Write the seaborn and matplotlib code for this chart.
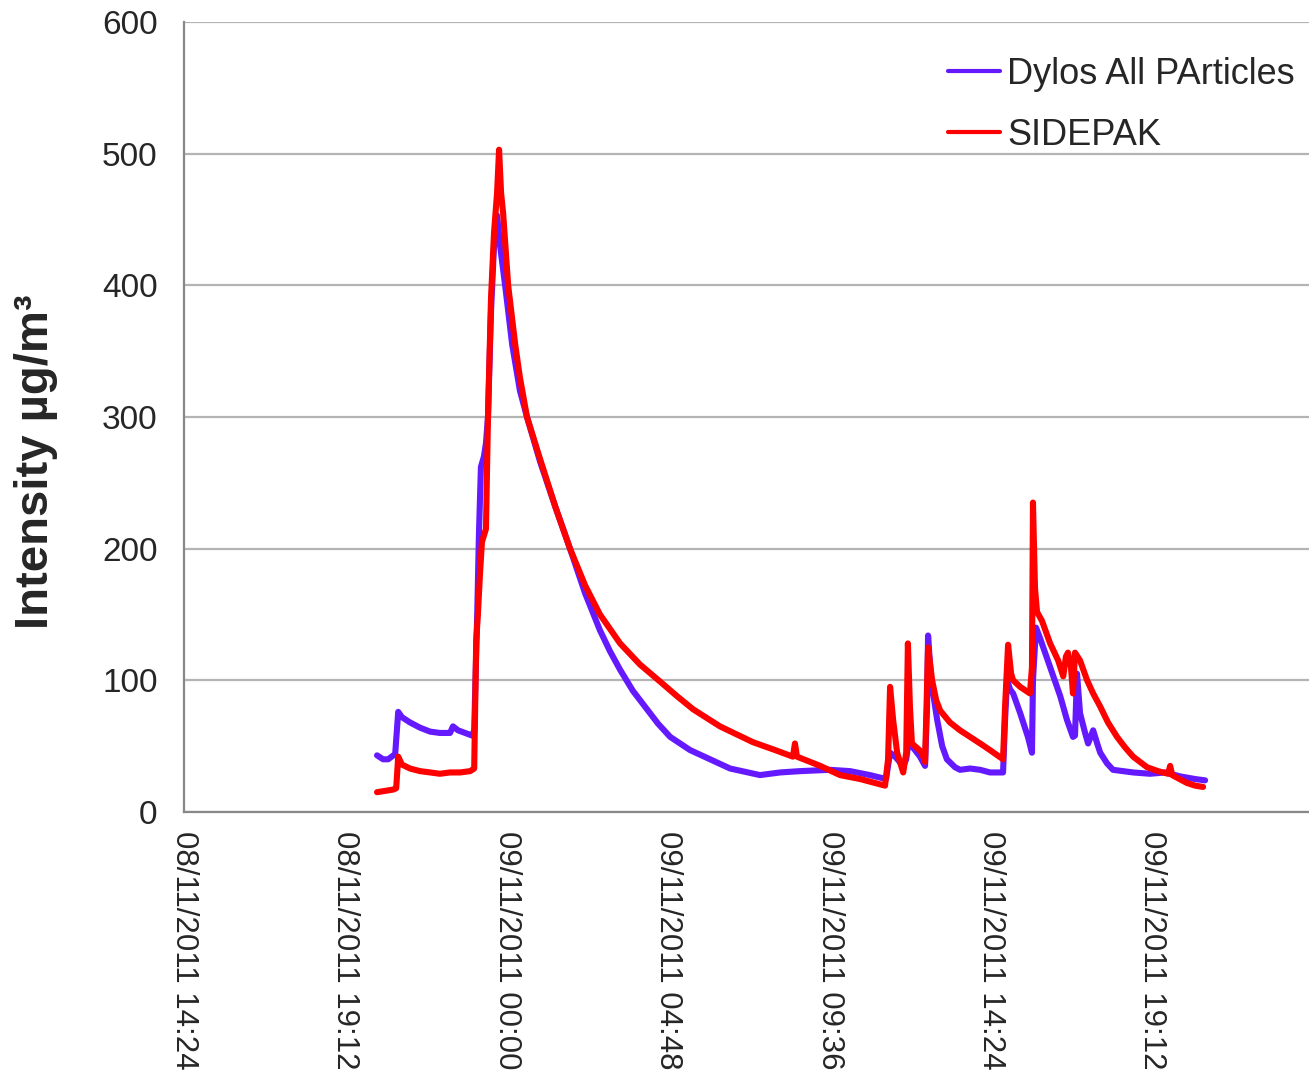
import pandas as pd
import numpy as np
import matplotlib.pyplot as plt
import seaborn as sns

# Time axis origin (first tick of the chart)
T0 = pd.Timestamp('2011-11-08 14:24')

# Dylos readings: hours after 08/11/2011 14:24 and intensity (ug/m3)
dylos_hours = [5.74, 5.92, 6.07, 6.28, 6.37, 6.48, 6.72, 7.02, 7.32, 7.61, 7.91, 8.00, 8.15,
               8.36, 8.57, 8.63, 8.72, 8.77, 8.83, 8.92, 8.98, 9.04, 9.13, 9.22, 9.31, 9.40,
               9.55, 9.76, 9.99, 10.20, 10.59, 11.04, 11.48, 11.93, 12.37, 12.67, 12.97,
               13.35, 13.77, 14.10, 14.46, 15.05, 15.56, 16.24, 17.13, 17.73, 18.32, 19.21,
               19.81, 20.40, 20.88, 21.00,
               21.15, 21.39, 21.48, 21.56, 21.65, 21.89, 22.04, 22.10, 22.13, 22.22, 22.40,
               22.55, 22.69, 22.93, 23.08, 23.38, 23.68, 23.97, 24.36, 24.42, 24.48, 24.57,
               24.66, 24.87, 25.10, 25.22, 25.25, 25.34, 25.46, 25.76, 26.06, 26.26, 26.44,
               26.50, 26.56, 26.65, 26.80, 26.89, 27.04, 27.16, 27.25, 27.45, 27.63, 28.23,
               28.73, 29.18, 29.63, 30.07, 30.37]
dylos_vals = [43, 40, 40, 44, 76, 72, 68, 64, 61, 60, 60, 65, 62,
              60, 58, 62, 150, 210, 262, 270, 280, 300, 380, 430, 453, 430,
              400, 355, 320, 300, 266, 232, 200, 166, 138, 122, 108,
              92, 78, 67, 57, 47, 41, 33, 28, 30, 31, 32,
              31, 28, 25, 45,
              42, 35, 40, 55, 50, 42, 35, 80, 134, 100, 70,
              50, 40, 34, 32, 33, 32, 30, 30, 70, 100, 93,
              90, 75, 57, 45, 100, 140, 132, 110, 88, 70, 57,
              58, 105, 75, 60, 52, 62, 52, 45, 37, 32, 30,
              29, 30, 27, 25, 24]

# SIDEPAK readings
sidepak_hours = [5.74, 5.98, 6.22, 6.31, 6.37, 6.48, 6.72, 7.02, 7.32, 7.61, 7.91, 8.21, 8.51,
                 8.63, 8.69, 8.74, 8.80, 8.86, 8.92, 8.98, 9.04, 9.13, 9.22, 9.31, 9.37, 9.43,
                 9.49, 9.64, 9.85, 9.99, 10.20, 10.59, 11.04, 11.48, 11.93, 12.37, 12.97,
                 13.56, 14.16, 14.66, 15.14, 15.94, 16.92, 17.58, 18.11, 18.17, 18.23, 18.92,
                 19.51, 20.11, 20.55,
                 20.85, 20.94, 21.00, 21.09, 21.21, 21.39, 21.48, 21.53, 21.59, 21.65, 21.83,
                 21.95, 22.04, 22.13, 22.25, 22.37, 22.49, 22.78, 23.08, 23.38, 23.68, 23.97,
                 24.36, 24.42, 24.51, 24.60, 24.66, 24.87, 25.16, 25.22, 25.25, 25.31, 25.37,
                 25.52, 25.76, 26.00, 26.15, 26.23, 26.29, 26.38, 26.44, 26.50, 26.65, 26.86,
                 27.04, 27.25, 27.48, 27.75, 27.99, 28.23, 28.64, 28.97, 29.27, 29.33, 29.39,
                 29.83, 30.07, 30.31]
sidepak_vals = [15, 16, 17, 18, 42, 36, 33, 31, 30, 29, 30, 30, 31,
                33, 130, 150, 180, 205, 210, 215, 300, 390, 440, 470, 503, 470,
                455, 400, 355, 330, 300, 268, 232, 200, 172, 150, 128,
                112, 99, 88, 78, 65, 53, 47, 42, 52, 42, 35,
                28, 25, 22,
                20, 40, 95, 70, 45, 30, 45, 128, 80, 52, 48,
                45, 38, 125, 100, 85, 77, 68, 62, 57, 52, 47,
                40, 80, 127, 105, 100, 95, 90, 110, 235, 170, 152,
                145, 128, 115, 103, 118, 121, 110, 90, 121, 115, 100,
                90, 80, 68, 57, 49, 42, 34, 31, 29, 35, 28,
                22, 20, 19]

series_names = ['Dylos All PArticles', 'SIDEPAK']
tick_times = pd.date_range(T0, periods=7, freq='288min')

df = pd.concat([
    pd.DataFrame({'time': T0 + pd.to_timedelta(dylos_hours, unit='h'),
                  'value': dylos_vals, 'series': series_names[0]}),
    pd.DataFrame({'time': T0 + pd.to_timedelta(sidepak_hours, unit='h'),
                  'value': sidepak_vals, 'series': series_names[1]}),
])

sns.set_style('white')
plt.rcParams['font.family'] = ['Liberation Sans', 'DejaVu Sans']

fig = plt.figure(figsize=(13.09, 10.78), dpi=100)
ax = fig.add_axes([0.1406, 0.2468, 0.8594, 0.7328])

sns.lineplot(data=df, x='time', y='value', hue='series', hue_order=series_names,
             palette={series_names[0]: '#6419ff', series_names[1]: '#ff0000'},
             estimator=None, linewidth=4.4, ax=ax)

ax.set_ylim(0, 600)
ax.set_yticks(range(0, 601, 100))
ax.set_xlim(T0, T0 + pd.Timedelta(hours=33.46))
ax.set_xticks(tick_times)
ax.set_xticklabels([t.strftime('%d/%m/%Y %H:%M') for t in tick_times],
                   rotation=-90, ha='center', va='top', fontsize=22.5)
ax.tick_params(axis='y', labelsize=24, length=9, width=1.5, color='#888888', pad=10)
ax.tick_params(axis='x', length=8, width=1.5, color='#888888', pad=6)
ax.grid(axis='y', color='#b4b4b4', linewidth=1.6)
ax.set_axisbelow(True)

for side in ['top', 'right']:
    ax.spines[side].set_visible(False)
for side in ['left', 'bottom']:
    ax.spines[side].set_color('#888888')
    ax.spines[side].set_linewidth(1.6)

ax.set_xlabel('')
ax.set_ylabel('Intensity µg/m³', fontsize=34, fontweight='bold')
ax.yaxis.set_label_coords(-0.112, 0.444)

leg = ax.legend(loc='upper left', bbox_to_anchor=(0.679, 0.956), frameon=False,
                fontsize=26, handlelength=1.45, handletextpad=0.2, labelspacing=0.72,
                borderpad=0, borderaxespad=0)
for line in leg.get_lines():
    line.set_linewidth(3)

fig.savefig('out.png', dpi=100)
